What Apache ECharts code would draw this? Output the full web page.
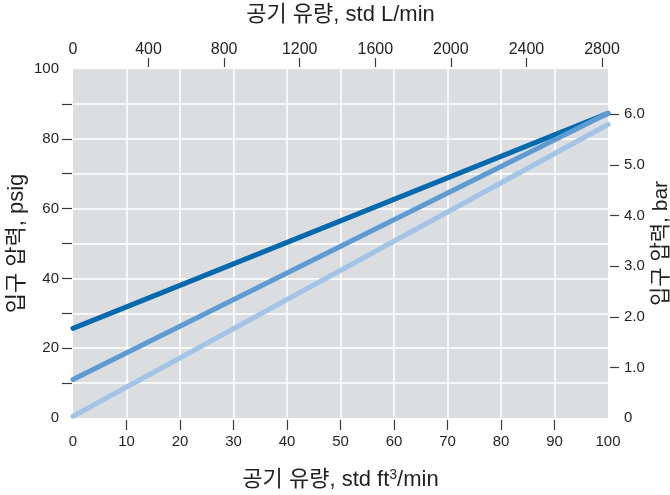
<!DOCTYPE html>
<html><head><meta charset="utf-8">
<script src="https://cdn.jsdelivr.net/npm/echarts@6/dist/echarts.min.js"></script>
<style>html,body{margin:0;padding:0;background:#fff}#c{width:670px;height:495px}</style>
</head><body><div id="c"></div>
<script>
// Flow in std ft3/min, inlet pressure in psig
const flowScfm = [0, 100];
const seriesDark = [25.7, 87.3];
const seriesMedium = [11, 87.3];
const seriesLight = [0.5, 84.1];
const bottomTicks = [10, 20, 30, 40, 50, 60, 70, 80, 90];
const bottomLabels = [0, 10, 20, 30, 40, 50, 60, 70, 80, 90, 100];
const topTicks = [400, 800, 1200, 1600, 2000, 2400, 2800];
const topLabels = [0, 400, 800, 1200, 1600, 2000, 2400, 2800];
const leftTicks = [10, 20, 30, 40, 50, 60, 70, 80, 90];
const leftLabels = [0, 20, 40, 60, 80, 100];
const rightTicks = [1, 2, 3, 4, 5, 6];
const rightLabels = [0, 1, 2, 3, 4, 5, 6];
const LPM_PER_SCFM = 28.3168;
const PSI_PER_BAR = 14.5038;

const FONT = '"Liberation Sans", Arial, "Noto Sans CJK KR", sans-serif';
const TXT = '#231f20';
const tickStyle = { color: '#3a3a3a', width: 1.2 };
const plain = (v) => String(v);
const noLine = { show: false, onZero: false };

const chart = echarts.init(document.getElementById('c'));
const mk = (d) => flowScfm.map((x, i) => [x, d[i]]);
chart.setOption({
  animation: false,
  textStyle: { fontFamily: FONT },
  grid: { left: 73, right: 62, top: 69, bottom: 77, show: true, backgroundColor: '#dcdde0', borderWidth: 0,
    containLabel: false, outerBoundsMode: 'none' },
  xAxis: [
    {
      type: 'value', position: 'bottom', min: 0, max: 100, interval: 20, offset: 2,
      axisLine: noLine,
      axisTick: { show: true, inside: false, length: 10, customValues: bottomTicks, lineStyle: tickStyle },
      axisLabel: { customValues: bottomLabels, color: TXT, fontSize: 15, margin: 14, fontFamily: FONT, formatter: plain },
      splitLine: { show: true, lineStyle: { color: '#ffffff', width: 1.5 } },
      name: '공기 유량, std ft{sup|3}/min', nameLocation: 'middle', nameGap: 48,
      nameTextStyle: { color: TXT, fontSize: 22, fontFamily: FONT,
        rich: { sup: { fontSize: 14, verticalAlign: 'top', padding: [0, 0, 9, 0], color: TXT, fontFamily: FONT } } }
    },
    {
      type: 'value', position: 'top', min: 0, max: 100 * LPM_PER_SCFM, offset: 2,
      axisLine: noLine,
      axisTick: { show: true, inside: false, length: 9, customValues: topTicks, lineStyle: tickStyle },
      axisLabel: { customValues: topLabels, color: TXT, fontSize: 16, margin: 9, fontFamily: FONT, formatter: plain },
      splitLine: { show: false },
      name: '공기 유량, std L/min', nameLocation: 'middle', nameGap: 41,
      nameTextStyle: { color: TXT, fontSize: 22, fontFamily: FONT }
    }
  ],
  yAxis: [
    {
      type: 'value', position: 'left', min: 0, max: 100, interval: 20, offset: 1,
      axisLine: noLine,
      axisTick: { show: true, inside: false, length: 10, customValues: leftTicks, lineStyle: tickStyle },
      axisLabel: { customValues: leftLabels, color: TXT, fontSize: 15, margin: 13, fontFamily: FONT, formatter: plain },
      splitLine: { show: true, lineStyle: { color: '#ffffff', width: 1.5 } },
      name: '입구 압력, psig', nameLocation: 'middle', nameGap: 44, nameRotate: 90, nameMoveOverlap: false,
      nameTextStyle: { color: TXT, fontSize: 22, fontFamily: FONT }
    },
    {
      type: 'value', position: 'right', min: 0, max: 100 / PSI_PER_BAR, offset: 2,
      axisLine: noLine,
      axisTick: { show: true, inside: false, length: 9, customValues: rightTicks, lineStyle: tickStyle },
      axisLabel: { customValues: rightLabels, color: TXT, fontSize: 15, margin: 14, fontFamily: FONT,
        formatter: (v) => v === 0 ? '0' : v.toFixed(1) },
      splitLine: { show: false },
      name: '입구 압력, bar', nameLocation: 'middle', nameGap: 41, nameRotate: 90, nameMoveOverlap: false,
      nameTextStyle: { color: TXT, fontSize: 21, fontFamily: FONT }
    }
  ],
  series: [
    { type: 'line', data: mk(seriesLight), showSymbol: false, symbol: 'none',
      lineStyle: { color: '#a3c4e6', width: 5, cap: 'round' } },
    { type: 'line', data: mk(seriesDark), showSymbol: false, symbol: 'none',
      lineStyle: { color: '#0569ad', width: 5, cap: 'round' } },
    { type: 'line', data: mk(seriesMedium), showSymbol: false, symbol: 'none',
      lineStyle: { color: '#5d9bd2', width: 5, cap: 'round' } }
  ]
});
</script></body></html>
